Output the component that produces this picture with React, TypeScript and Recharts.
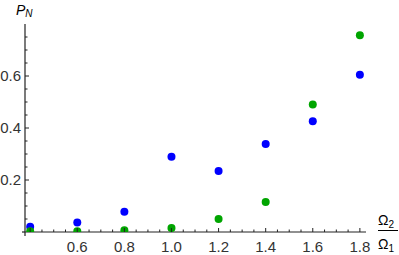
import { ScatterChart, Scatter, XAxis, YAxis } from "recharts";

const ratios = [0.4, 0.6, 0.8, 1.0, 1.2, 1.4, 1.6, 1.8];
const pBlue = [0.02, 0.037, 0.078, 0.289, 0.235, 0.338, 0.426, 0.605];
const pGreen = [0.003, 0.003, 0.007, 0.015, 0.05, 0.115, 0.49, 0.757];

const xMajor = [0.6, 0.8, 1.0, 1.2, 1.4, 1.6, 1.8];
const xTicks = [0.4, 0.45, 0.5, 0.55, 0.6, 0.65, 0.7, 0.75, 0.8, 0.85, 0.9, 0.95, 1.0, 1.05, 1.1, 1.15, 1.2, 1.25, 1.3, 1.35, 1.4, 1.45, 1.5, 1.55, 1.6, 1.65, 1.7, 1.75, 1.8];
const yMajor = [0.2, 0.4, 0.6];
const yTicks = [0.05, 0.1, 0.15, 0.2, 0.25, 0.3, 0.35, 0.4, 0.45, 0.5, 0.55, 0.6, 0.65, 0.7, 0.75];

const blueData = ratios.map((x, i) => ({ x, y: pBlue[i] }));
const greenData = ratios.map((x, i) => ({ x, y: pGreen[i] }));

const FONT = "'Liberation Sans', Arial, sans-serif";
const AXIS = "#222";
const LABEL = "#333";

const isMajor = (v: number, majors: number[]) => majors.some((m) => Math.abs(m - v) < 1e-6);

function XTick(props: any) {
  const { x, y, payload } = props;
  const v = payload.value as number;
  const major = isMajor(v, xMajor) || Math.abs(v - 0.4) < 1e-6;
  return (
    <g>
      <line x1={x} x2={x} y1={y} y2={y - (major ? 4 : 2.5)} stroke={AXIS} strokeWidth={1} />
      {isMajor(v, xMajor) && (
        <text x={x} y={y + 19.5} textAnchor="middle" fontSize={15} fontFamily={FONT} fill={LABEL}>
          {v.toFixed(1)}
        </text>
      )}
    </g>
  );
}

function YTick(props: any) {
  const { x, y, payload } = props;
  const v = payload.value as number;
  const major = isMajor(v, yMajor);
  return (
    <g>
      <line x1={x} x2={x + (major ? 4 : 2.5)} y1={y} y2={y} stroke={AXIS} strokeWidth={1} />
      {major && (
        <text x={x - 4} y={y + 5.4} textAnchor="end" fontSize={15} fontFamily={FONT} fill={LABEL}>
          {v.toFixed(1)}
        </text>
      )}
    </g>
  );
}

const dot = (color: string) => (p: any) => <circle cx={p.cx} cy={p.cy} r={4} fill={color} />;

export default function App() {
  return (
    <div style={{ position: "absolute", left: 0, top: 0, width: 399, height: 255, background: "#fff" }}>
      <ScatterChart width={399} height={255} margin={{ top: 24, right: 33, bottom: 0, left: 0 }}>
        <XAxis
          type="number"
          dataKey="x"
          domain={[0.378, 1.826]}
          ticks={xTicks}
          interval={0}
          height={23}
          tickSize={0}
          tickMargin={0}
          tickLine={false}
          axisLine={{ stroke: AXIS, strokeWidth: 1.2 }}
          tick={XTick}
          allowDataOverflow
        />
        <YAxis
          type="number"
          dataKey="y"
          domain={[0, 0.8]}
          ticks={yTicks}
          interval={0}
          width={25}
          tickSize={0}
          tickMargin={0}
          tickLine={false}
          axisLine={{ stroke: AXIS, strokeWidth: 1.2 }}
          tick={YTick}
          allowDataOverflow
        />
        <Scatter data={blueData} fill="#0000ff" shape={dot("#0000ff")} isAnimationActive={false} />
        <Scatter data={greenData} fill="#00a500" shape={dot("#00a500")} isAnimationActive={false} />
      </ScatterChart>
      <svg
        width={399}
        height={255}
        style={{ position: "absolute", left: 0, top: 0, pointerEvents: "none", overflow: "visible" }}
      >
        {/* axes overhang past the origin, as in the original */}
        <line x1={25} x2={25} y1={232} y2={236} stroke={AXIS} strokeWidth={1.2} />
        <line x1={22} x2={25} y1={232} y2={232} stroke={AXIS} strokeWidth={1.2} />
        <text x={16} y={15} fontSize={14} fontStyle="italic" fontFamily={FONT} fill="#000">
          P
          <tspan fontSize={10} dy={2}>N</tspan>
        </text>
        <text x={378} y={225} fontSize={14} fontFamily={FONT} fill="#000">
          Ω<tspan fontSize={10} dy={3}>2</tspan>
        </text>
        <line x1={378} x2={398} y1={230.5} y2={230.5} stroke="#000" strokeWidth={1} />
        <text x={378} y={249} fontSize={14} fontFamily={FONT} fill="#000">
          Ω<tspan fontSize={10} dy={3}>1</tspan>
        </text>
      </svg>
    </div>
  );
}
